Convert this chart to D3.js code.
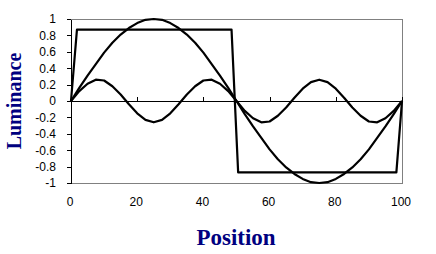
<!DOCTYPE html>
<html>
<head>
<meta charset="utf-8">
<script src="https://cdn.jsdelivr.net/npm/d3@7"></script>
<style>
  body { margin: 0; background: #fff; }
  svg { display: block; }
</style>
</head>
<body>
<div id="grafico"></div>
<script>
// Valores (posicion 0..100 cada 2.5)
const posiciones = [0, 2.5, 5, 7.5, 10, 12.5, 15, 17.5, 20, 22.5, 25, 27.5, 30, 32.5, 35, 37.5, 40, 42.5, 45, 47.5,
    50, 52.5, 55, 57.5, 60, 62.5, 65, 67.5, 70, 72.5, 75, 77.5, 80, 82.5, 85, 87.5, 90, 92.5, 95, 97.5, 100];

const fundamental = [0, .16, .31, .45, .59, .71, .81, .89, .95, .99, 1, .99, .95, .89, .81, .71, .59, .45, .31, .16,
    0, -.16, -.31, -.45, -.59, -.71, -.81, -.89, -.95, -.99, -1, -.99, -.95, -.89, -.81, -.71, -.59, -.45, -.31, -.16, 0];

const armonico3 = [0, .12, .21, .26, .25, .18, .08, -.04, -.15, -.23, -.26, -.23, -.15, -.04, .08, .18, .25, .26, .21, .12,
    0, -.12, -.21, -.26, -.25, -.18, -.08, .04, .15, .23, .26, .23, .15, .04, -.08, -.18, -.25, -.26, -.21, -.12, 0];

// Onda cuadrada: solo las esquinas
const posCuadrada = [0, 1.8, 48.5, 50.5, 98.3, 100];
const valCuadrada = [0, .87, .87, -.87, -.87, 0];

const ticksX = [0, 20, 40, 60, 80, 100];
const ticksY = [1, 0.8, 0.6, 0.4, 0.2, 0, -0.2, -0.4, -0.6, -0.8, -1];

const ancho = 436;
const alto = 254;
const margen = { top: 19, right: 34, bottom: 71, left: 71 };

const svg = d3.select("#grafico")
    .append("svg")
    .attr("width", ancho)
    .attr("height", alto);

const x = d3.scaleLinear()
    .domain([0, 100])
    .range([margen.left, ancho - margen.right]);

const y = d3.scaleLinear()
    .domain([-1, 1])
    .range([alto - margen.bottom, margen.top]);

// Marco gris del area de trazado
svg.append("rect")
    .attr("x", x(0))
    .attr("y", y(1))
    .attr("width", x(100) - x(0))
    .attr("height", y(-1) - y(1))
    .attr("fill", "none")
    .attr("stroke", "#808080")
    .attr("stroke-width", 1)
    .attr("shape-rendering", "crispEdges");

// Eje Y
const ejeY = svg.append("g")
    .attr("transform", `translate(${x(0)},0)`)
    .call(d3.axisLeft(y).tickValues(ticksY).tickSize(4).tickPadding(11).tickSizeOuter(0)
        .tickFormat(d => d3.format("")(d).replace("−", "-")));

// Eje X sobre la linea del cero, marcas hacia arriba
const ejeX = svg.append("g")
    .attr("transform", `translate(0,${y(0)})`)
    .call(d3.axisTop(x).tickValues(ticksX).tickSize(4).tickSizeOuter(0).tickFormat(""));

[ejeY, ejeX].forEach(g => {
    g.select(".domain").attr("stroke", "#000").attr("shape-rendering", "crispEdges");
    g.selectAll(".tick line").attr("stroke", "#000").attr("shape-rendering", "crispEdges");
});

ejeY.selectAll("text")
    .attr("font-family", "Liberation Sans, Arial, sans-serif")
    .attr("font-size", 12)
    .attr("fill", "#000");

// Etiquetas del eje X debajo del grafico
svg.append("g")
    .selectAll("text")
    .data(ticksX)
    .enter()
    .append("text")
    .attr("x", d => x(d) - 1)
    .attr("y", 206)
    .attr("text-anchor", "middle")
    .attr("font-family", "Liberation Sans, Arial, sans-serif")
    .attr("font-size", 12)
    .text(d => d);

// Curvas
const linea = d3.line()
    .x(d => x(d[0]))
    .y(d => y(d[1]));

const series = [
    d3.zip(posiciones, fundamental),
    d3.zip(posiciones, armonico3),
    d3.zip(posCuadrada, valCuadrada)
];

svg.append("g")
    .selectAll("path")
    .data(series)
    .enter()
    .append("path")
    .attr("d", linea)
    .attr("fill", "none")
    .attr("stroke", "#000")
    .attr("stroke-width", 2.2)
    .attr("stroke-linejoin", "round");

// Titulos de los ejes
svg.append("text")
    .attr("transform", `translate(21,${y(0)}) rotate(-90)`)
    .attr("text-anchor", "middle")
    .attr("font-family", "Liberation Serif, Times New Roman, serif")
    .attr("font-weight", "bold")
    .attr("font-size", 20)
    .attr("fill", "#000080")
    .text("Luminance");

svg.append("text")
    .attr("x", 236)
    .attr("y", 245)
    .attr("text-anchor", "middle")
    .attr("font-family", "Liberation Serif, Times New Roman, serif")
    .attr("font-weight", "bold")
    .attr("font-size", 23)
    .attr("fill", "#000080")
    .text("Position");
</script>
</body>
</html>
